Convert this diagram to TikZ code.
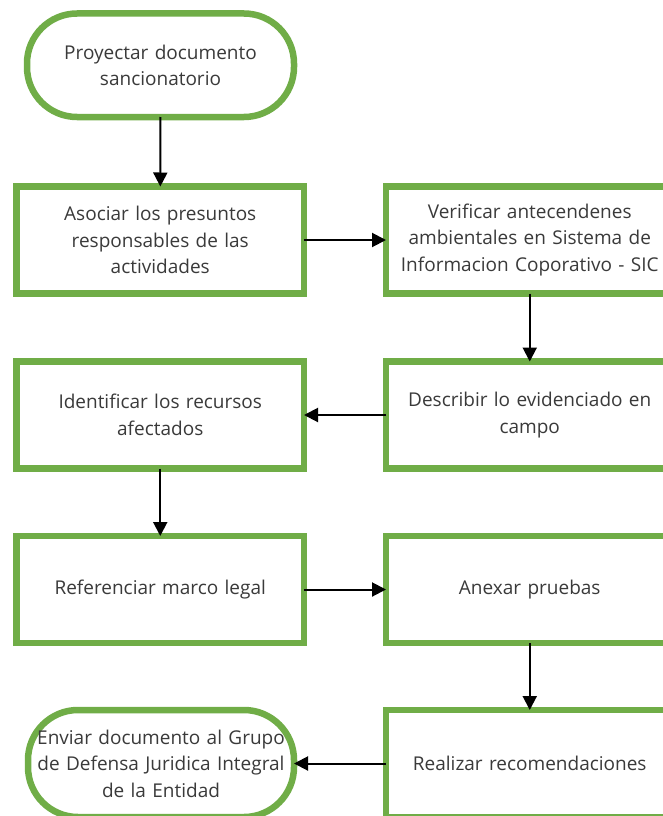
\documentclass[tikz,border=0pt]{standalone}
\usepackage{fontspec}
\setmainfont{Open Sans}
\usetikzlibrary{arrows.meta}
\definecolor{boxgreen}{HTML}{70AD47}
\definecolor{txtgray}{HTML}{3A3A3A}
\tikzset{
  procbox/.style={draw=boxgreen, line width=6.5pt, fill=white, rectangle,
    minimum width=287.5pt, minimum height=107pt, inner sep=0pt, outer sep=0pt,
    text width=270pt, align=center, text=txtgray,
    font=\fontsize{19}{26.5}\selectfont},
  termbox/.style={procbox, rounded corners=50pt, minimum width=267pt, text width=252pt},
  flow/.style={draw=black, line width=2pt, -{Triangle[length=14pt,width=14pt]}}
}
\begin{document}
\begin{tikzpicture}[x=1pt,y=-1pt]
\useasboundingbox (0,0) rectangle (663,816);
\node[termbox, minimum height=103.5pt] (start) at (160.5,65.25) {Proyectar documento\\sancionatorio};
\node[procbox] (asoc) at (160.25,240) {Asociar los presuntos\\responsables de las\\actividades};
\node[procbox] (veri) at (529.75,240) {Verificar antecendenes\\ambientales en Sistema de\\Informacion Coporativo - SIC};
\node[procbox] (desc) at (529.75,415) {Describir lo evidenciado en\\campo};
\node[procbox] (iden) at (160.25,415) {Identificar los recursos\\afectados};
\node[procbox] (refe) at (160.25,589.5) {Referenciar marco legal};
\node[procbox] (anex) at (529.75,589.5) {Anexar pruebas};
\node[procbox] (real) at (529.75,763.5) {Realizar recomendaciones};
\node[termbox, minimum width=266pt] (envi) at (161,763.5) {Enviar documento al Grupo\\de Defensa Juridica Integral\\de la Entidad};
\draw[flow] (start) -- (asoc);
\draw[flow] (asoc) -- (veri);
\draw[flow] (veri) -- (desc);
\draw[flow] (desc) -- (iden);
\draw[flow] (iden) -- (refe);
\draw[flow] (refe) -- (anex);
\draw[flow] (anex) -- (real);
\draw[flow] (real) -- (envi);
\end{tikzpicture}
\end{document}
